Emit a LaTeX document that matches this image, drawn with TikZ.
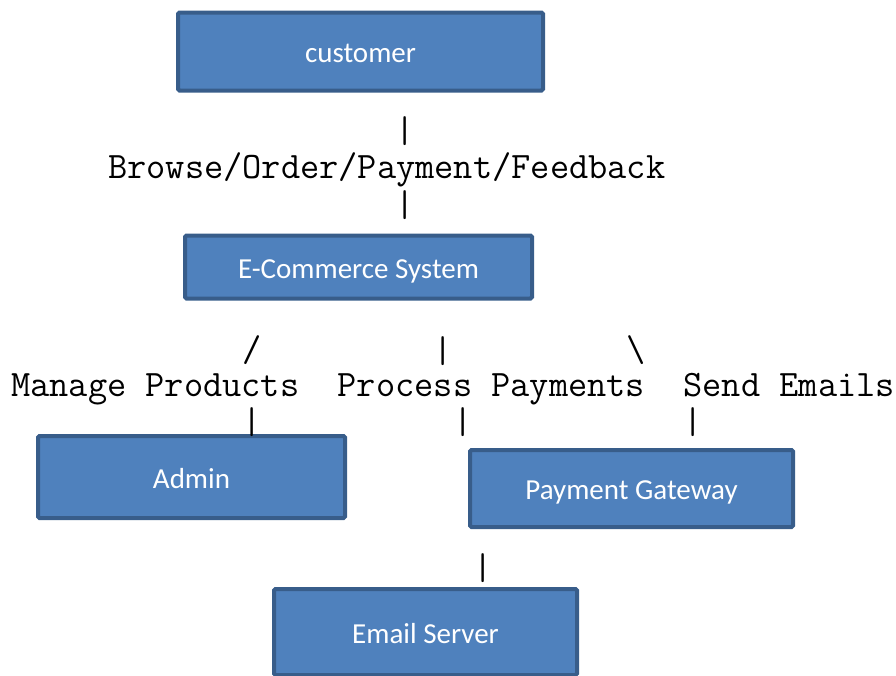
\documentclass[tikz,border=0pt]{standalone}
\usepackage{fontspec}
\setmainfont{Carlito}
\definecolor{boxfill}{HTML}{4F81BD}
\definecolor{boxline}{HTML}{385D8A}
\begin{document}
\begin{tikzpicture}[x=1pt,y=-1pt,
  entity/.style={draw=boxline,fill=boxfill,line width=4pt,rounded corners=1.5pt,
    text=white,font=\fontsize{29}{34}\selectfont,inner sep=0pt,anchor=center,
    text height=22.5pt,text depth=0pt},
  ascii/.style={font=\ttfamily\fontsize{37.3}{40}\selectfont,inner sep=0pt,text=black}]
\useasboundingbox (0,0) rectangle (896,675);
\node[entity,minimum width=365pt,minimum height=78pt] (customer) at (360.5,51.5) {customer};
\node[entity,minimum width=347pt,minimum height=63pt] (ecom) at (358.5,267) {E-Commerce System};
\node[entity,minimum width=307pt,minimum height=82pt] (admin) at (191.5,477) {Admin};
\node[entity,minimum width=323pt,minimum height=77pt] (gateway) at (631.5,488.5) {Payment Gateway};
\node[entity,minimum width=303pt,minimum height=86pt] (email) at (425.5,632) {Email Server};
% ASCII connector text
\node[ascii] (p1) at (405,131) {|};
\node[ascii,anchor=base west] (flow) at (108,178.5) {Browse/Order/Payment/Feedback};
\node[ascii] (p2) at (405,205) {|};
\node[ascii] (s1) at (252,350) {/};
\node[ascii] (p3) at (443,351) {|};
\node[ascii] (s2) at (636,350) {\textbackslash};
\node[ascii,anchor=base west] (tasks) at (11,396.5) {Manage Products\ \ Process Payments\ \ Send Emails};
\node[ascii] (p4) at (252,422) {|};
\node[ascii] (p5) at (463,422) {|};
\node[ascii] (p6) at (693,422) {|};
\node[ascii] (p7) at (483,568) {|};
\end{tikzpicture}
\end{document}
